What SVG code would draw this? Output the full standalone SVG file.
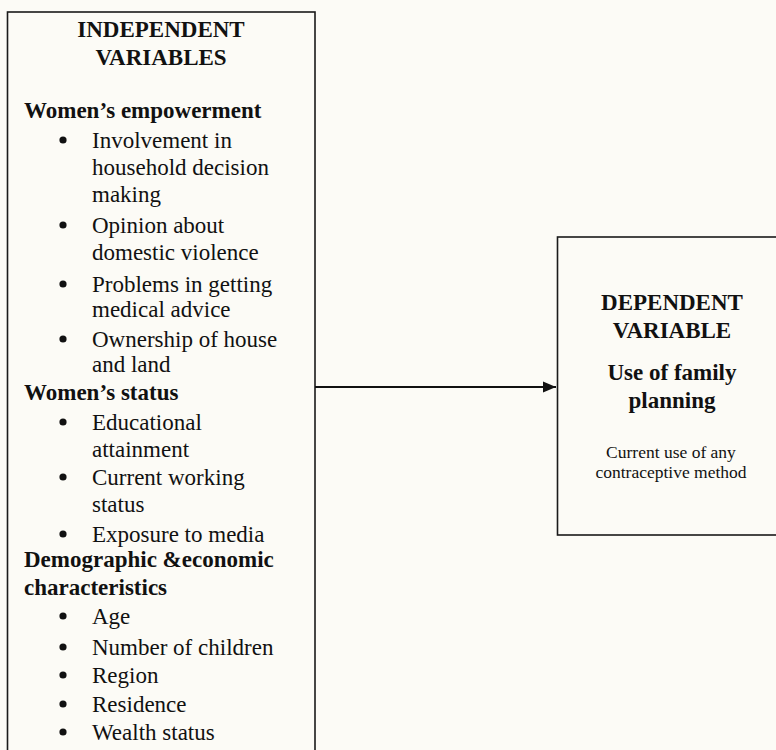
<svg xmlns="http://www.w3.org/2000/svg" width="776" height="750" viewBox="0 0 776 750">
<defs>
<style>
.box{fill:none;stroke:#1a1a1a;stroke-width:1.6}
.t{font-family:"Liberation Serif","Times New Roman",serif;fill:#111}
.h{font-size:23px;font-weight:bold}
.b{font-size:23px}
.s{font-size:17.5px}
.c{text-anchor:middle}
.dot{fill:#111}
.edge{stroke:#111;stroke-width:1.8;fill:none}
</style>
<marker id="arr" markerWidth="14" markerHeight="12" refX="13" refY="6" orient="auto" markerUnits="userSpaceOnUse">
<path d="M0,0.5 L13,6 L0,11.5 Z" fill="#111"/>
</marker>
</defs>
<rect width="776" height="750" fill="#fcfbf6"/>
<g id="independent">
<rect class="box" x="7.5" y="12" width="307.5" height="760"/>
<text class="t h c" x="161" y="37">INDEPENDENT</text>
<text class="t h c" x="161" y="65">VARIABLES</text>
<text class="t h" x="24" y="118">Women’s empowerment</text>
<circle class="dot" cx="63" cy="140" r="3.6"/>
<text class="t b" x="92" y="148">Involvement in</text>
<text class="t b" x="92" y="175">household decision</text>
<text class="t b" x="92" y="202">making</text>
<circle class="dot" cx="63" cy="225" r="3.6"/>
<text class="t b" x="92" y="233">Opinion about</text>
<text class="t b" x="92" y="260">domestic violence</text>
<circle class="dot" cx="63" cy="284" r="3.6"/>
<text class="t b" x="92" y="292">Problems in getting</text>
<text class="t b" x="92" y="317">medical advice</text>
<circle class="dot" cx="63" cy="339" r="3.6"/>
<text class="t b" x="92" y="347">Ownership of house</text>
<text class="t b" x="92" y="372">and land</text>
<text class="t h" x="24" y="400">Women’s status</text>
<circle class="dot" cx="63" cy="422" r="3.6"/>
<text class="t b" x="92" y="430">Educational</text>
<text class="t b" x="92" y="457">attainment</text>
<circle class="dot" cx="63" cy="477" r="3.6"/>
<text class="t b" x="92" y="485">Current working</text>
<text class="t b" x="92" y="512">status</text>
<circle class="dot" cx="63" cy="534" r="3.6"/>
<text class="t b" x="92" y="542">Exposure to media</text>
<text class="t h" x="24" y="567">Demographic &amp;economic</text>
<text class="t h" x="24" y="595">characteristics</text>
<circle class="dot" cx="63" cy="616" r="3.6"/>
<text class="t b" x="92" y="624">Age</text>
<circle class="dot" cx="63" cy="647" r="3.6"/>
<text class="t b" x="92" y="655">Number of children</text>
<circle class="dot" cx="63" cy="675" r="3.6"/>
<text class="t b" x="92" y="683">Region</text>
<circle class="dot" cx="63" cy="704" r="3.6"/>
<text class="t b" x="92" y="712">Residence</text>
<circle class="dot" cx="63" cy="732" r="3.6"/>
<text class="t b" x="92" y="740">Wealth status</text>
</g>
<g id="dependent">
<rect class="box" x="557.5" y="237" width="230" height="298"/>
<text class="t h c" x="672" y="310">DEPENDENT</text>
<text class="t h c" x="672" y="338">VARIABLE</text>
<text class="t h c" x="672" y="380">Use of family</text>
<text class="t h c" x="672" y="408">planning</text>
<text class="t s c" x="671" y="458">Current use of any</text>
<text class="t s c" x="671" y="478">contraceptive method</text>
</g>
<g id="connectors">
<line class="edge" x1="315" y1="387" x2="556" y2="387" marker-end="url(#arr)"/>
</g>
</svg>
